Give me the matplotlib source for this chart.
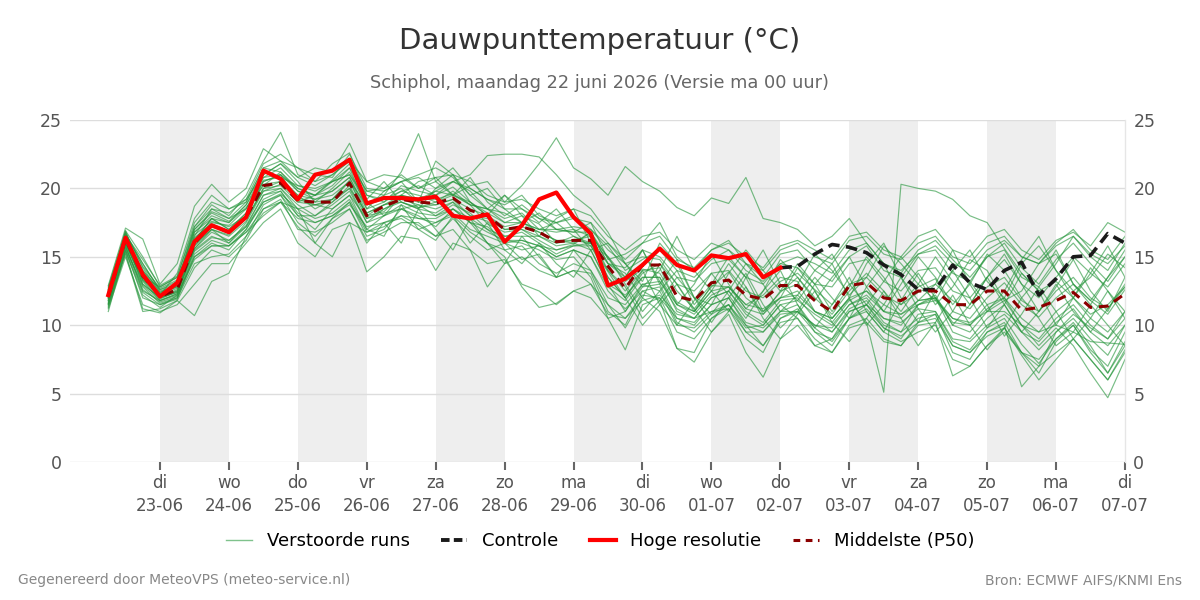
import matplotlib
matplotlib.use("Agg")
import matplotlib.pyplot as plt
from matplotlib.lines import Line2D
import pandas as pd

# ---------------- data ----------------
start_time = "2026-06-22 06:00"
n_steps = 60
step = "6h"

hoge_resolutie = [12.2, 16.4, 13.7, 12.1, 13.1, 16.1, 17.3, 16.8, 17.9, 21.3,
                  20.7, 19.2, 21.0, 21.3, 22.1, 18.9, 19.3, 19.3, 19.2, 19.4,
                  18.0, 17.8, 18.1, 16.1, 17.3, 19.2, 19.7, 17.9, 16.7, 12.9,
                  13.4, 14.4, 15.6, 14.4, 14.0, 15.1, 14.9, 15.2, 13.5, 14.2]

controle_start_index = 39
controle = [14.2, 14.3, 15.2, 15.9, 15.7, 15.3, 14.4, 13.7, 12.6, 12.6,
            14.4, 13.1, 12.6, 14.0, 14.6, 12.2, 13.4, 15.0, 15.1, 16.7, 16.0]

p50 = [12.1, 16.3, 13.6, 12.1, 12.6, 16.0, 17.3, 16.8, 17.9, 20.2,
       20.4, 19.1, 19.0, 19.0, 20.4, 18.0, 18.7, 19.2, 19.0, 18.9,
       19.3, 18.4, 18.0, 17.0, 17.2, 16.8, 16.1, 16.2, 16.2, 14.3,
       12.7, 14.4, 14.4, 12.1, 11.8, 13.1, 13.3, 12.2, 11.9, 12.9,
       12.9, 11.8, 11.0, 12.9, 13.1, 12.0, 11.8, 12.5, 12.5, 11.5,
       11.5, 12.5, 12.5, 11.1, 11.3, 11.8, 12.4, 11.3, 11.4, 12.3]

m01 = [12.5, 16.8, 14.2, 12.4, 13.0, 17.2, 18.8, 18.0, 19.5, 22.0,
       24.1, 21.0, 20.5, 21.8, 22.6, 19.5, 19.0, 20.2, 19.8, 19.5,
       20.1, 19.0, 18.2, 17.5, 18.0, 17.4, 16.0, 16.5, 15.8, 13.9,
       12.0, 13.8, 14.5, 12.5, 11.2, 12.8, 13.9, 12.0, 11.0, 12.4,
       13.5, 12.0, 10.8, 12.5, 13.8, 12.5, 11.0, 12.8, 13.4, 11.0,
       10.5, 12.0, 13.1, 11.5, 10.6, 12.0, 13.0, 11.8, 10.8, 12.6]
m02 = [12.0, 16.0, 13.2, 11.8, 12.3, 15.6, 17.0, 16.5, 17.6, 20.0,
       20.5, 19.5, 18.5, 19.2, 20.6, 18.0, 18.3, 19.5, 18.6, 19.0,
       19.8, 18.8, 17.4, 16.8, 17.0, 16.2, 15.5, 15.9, 16.8, 14.9,
       13.2, 14.1, 13.8, 11.7, 11.0, 12.9, 12.8, 11.5, 12.2, 13.5,
       13.2, 11.0, 10.5, 11.9, 10.2, 5.1, 20.3, 20.0, 19.8, 19.2,
       18.0, 17.5, 15.6, 13.8, 12.5, 13.2, 12.0, 10.8, 11.5, 12.8]
m03 = [11.5, 15.2, 11.0, 11.2, 11.8, 10.7, 13.2, 13.8, 16.5, 18.2,
       19.0, 18.5, 16.0, 15.0, 17.5, 16.8, 17.2, 18.0, 17.3, 16.5,
       17.8, 16.5, 15.5, 16.0, 14.8, 15.2, 13.5, 14.0, 13.8, 11.0,
       10.0, 12.5, 12.8, 10.2, 9.5, 10.8, 11.5, 10.0, 8.5, 10.5,
       11.2, 9.8, 8.8, 10.5, 11.2, 9.8, 9.0, 10.8, 11.0, 8.8,
       8.2, 9.8, 10.5, 8.6, 7.2, 9.0, 10.2, 8.5, 6.5, 8.5]
m04 = [12.8, 16.9, 15.0, 12.8, 13.5, 17.5, 19.0, 18.5, 19.0, 21.5,
       21.2, 20.0, 19.5, 20.6, 21.8, 19.8, 19.5, 21.2, 24.0, 20.5,
       19.5, 20.8, 19.0, 18.0, 18.8, 17.8, 17.0, 17.2, 17.0, 15.5,
       14.5, 13.2, 16.0, 14.5, 12.0, 11.5, 13.8, 15.5, 14.0, 12.5,
       13.0, 15.2, 14.0, 12.2, 13.5, 15.8, 14.5, 13.0, 11.8, 14.0,
       15.5, 13.2, 12.0, 14.5, 15.8, 14.0, 12.5, 13.5, 15.2, 14.2]
m05 = [12.3, 16.5, 14.0, 12.6, 13.2, 16.8, 18.0, 17.5, 18.8, 20.8,
       21.5, 20.2, 19.8, 20.5, 21.0, 18.8, 19.5, 20.0, 19.0, 19.8,
       20.5, 21.0, 22.4, 22.5, 22.5, 22.3, 21.0, 19.5, 18.5, 16.8,
       14.5, 15.0, 14.8, 13.0, 12.5, 13.8, 14.0, 12.5, 12.0, 13.2,
       13.8, 12.6, 11.5, 13.0, 13.5, 12.2, 11.5, 12.4, 13.0, 11.8,
       11.2, 12.8, 13.5, 11.8, 11.0, 12.5, 13.5, 12.0, 11.2, 12.8]
m06 = [12.4, 16.6, 14.5, 12.5, 12.9, 16.5, 18.5, 17.8, 18.5, 21.0,
       21.8, 20.5, 19.0, 20.0, 21.2, 19.0, 18.0, 19.5, 20.5, 20.8,
       19.5, 20.2, 20.5, 19.0, 20.2, 21.8, 23.7, 21.5, 20.7, 19.5,
       21.6, 20.5, 19.8, 18.6, 18.0, 19.3, 18.9, 20.8, 17.8, 17.5,
       17.0, 15.8, 16.5, 17.8, 16.0, 14.5, 13.8, 15.5, 16.2, 14.8,
       13.5, 15.0, 16.0, 14.2, 13.0, 14.8, 16.0, 14.5, 13.2, 15.0]
m07 = [11.0, 15.5, 12.0, 11.5, 12.0, 14.5, 15.0, 15.2, 16.5, 18.8,
       19.5, 17.5, 16.5, 17.8, 19.0, 16.5, 17.0, 18.5, 18.0, 17.2,
       18.5, 17.5, 16.0, 15.5, 15.8, 14.5, 13.8, 14.5, 14.0, 11.5,
       9.8, 12.0, 11.0, 8.3, 7.3, 9.5, 10.8, 8.0, 6.2, 9.0,
       10.0, 8.5, 8.0, 10.0, 10.5, 9.0, 8.5, 10.2, 10.8, 8.0,
       7.5, 9.5, 10.2, 8.0, 6.5, 8.8, 10.0, 8.2, 7.0, 9.5]
m08 = [11.8, 16.2, 13.0, 12.0, 12.4, 15.8, 17.0, 16.0, 17.2, 19.5,
       20.0, 18.8, 18.0, 19.0, 20.0, 17.5, 18.5, 19.0, 18.5, 18.2,
       19.0, 18.0, 17.6, 16.5, 16.8, 16.0, 15.2, 15.8, 16.0, 13.5,
       12.0, 14.0, 14.2, 11.5, 11.0, 12.5, 12.8, 11.5, 11.2, 12.0,
       12.2, 11.0, 10.5, 12.0, 12.5, 11.0, 10.8, 11.8, 12.0, 10.5,
       10.0, 11.5, 12.0, 10.0, 8.5, 9.8, 8.5, 6.5, 4.7, 7.5]
m09 = [12.6, 16.4, 13.8, 12.2, 13.8, 17.8, 19.5, 18.5, 19.2, 21.8,
       22.5, 21.5, 21.0, 20.8, 22.5, 20.0, 19.8, 20.5, 21.0, 21.5,
       20.8, 19.5, 20.0, 18.5, 17.5, 18.2, 17.0, 16.8, 17.5, 14.8,
       15.2, 16.0, 17.5, 15.0, 14.0, 15.5, 16.2, 14.5, 13.5, 15.2,
       15.5, 14.0, 13.2, 15.0, 15.8, 14.0, 13.5, 15.2, 15.5, 13.8,
       13.2, 15.0, 15.5, 13.5, 12.8, 14.5, 16.5, 15.0, 14.0, 16.0]
m10 = [11.6, 15.8, 12.5, 11.8, 12.2, 15.0, 16.0, 15.5, 17.0, 19.0,
       19.5, 18.0, 17.0, 18.5, 19.5, 17.0, 16.5, 18.8, 17.0, 16.2,
       18.0, 16.0, 17.5, 15.5, 14.5, 16.0, 14.5, 13.5, 15.5, 13.0,
       11.0, 12.8, 13.0, 10.5, 10.0, 11.5, 12.0, 10.0, 9.5, 11.0,
       11.5, 9.5, 8.5, 10.5, 11.0, 9.5, 8.8, 9.5, 10.0, 7.5,
       7.0, 8.5, 9.8, 7.8, 6.0, 7.5, 9.0, 7.5, 6.0, 8.0]
m11 = [12.2, 16.9, 13.5, 12.8, 13.5, 16.2, 17.8, 17.0, 18.2, 20.8,
       21.0, 19.8, 19.5, 19.8, 20.8, 18.5, 19.0, 19.8, 19.5, 19.0,
       19.5, 18.8, 18.5, 17.8, 18.2, 17.0, 16.8, 17.0, 16.5, 15.0,
       13.5, 15.5, 13.0, 14.8, 12.0, 10.8, 12.5, 14.5, 13.0, 11.0,
       12.2, 14.0, 15.2, 13.0, 11.5, 13.2, 15.0, 13.5, 11.5, 12.8,
       14.8, 14.0, 11.8, 12.5, 14.5, 15.2, 13.0, 11.8, 13.5, 15.0]
m12 = [12.9, 17.1, 16.3, 13.0, 14.5, 18.7, 20.3, 19.0, 20.0, 22.9,
       22.0, 21.5, 20.5, 21.0, 22.0, 20.5, 21.0, 20.8, 20.0, 20.5,
       21.5, 20.0, 19.2, 18.8, 19.5, 18.0, 17.5, 18.0, 17.0, 15.8,
       14.0, 14.8, 15.5, 14.0, 13.5, 14.8, 15.5, 14.0, 13.2, 14.5,
       14.2, 13.0, 12.8, 14.5, 14.8, 13.2, 12.5, 14.0, 14.2, 12.5,
       12.0, 13.5, 14.8, 13.0, 12.0, 13.5, 15.0, 13.8, 12.8, 14.5]
m13 = [11.2, 15.0, 11.5, 11.0, 11.5, 13.0, 14.5, 14.5, 16.0, 17.5,
       18.5, 16.0, 15.0, 17.0, 17.5, 13.9, 15.0, 16.5, 16.3, 14.0,
       16.0, 15.5, 14.5, 14.8, 13.0, 12.5, 11.5, 12.5, 12.0, 10.5,
       11.0, 13.0, 12.5, 10.0, 9.8, 11.0, 11.5, 9.8, 10.0, 11.5,
       10.5, 8.5, 9.0, 11.0, 11.5, 10.0, 9.5, 11.5, 12.0, 9.5,
       9.0, 10.5, 11.5, 9.5, 8.8, 10.2, 11.2, 9.5, 8.5, 10.0]
m14 = [12.1, 16.1, 13.9, 12.3, 12.8, 16.6, 17.6, 17.2, 18.0, 20.5,
       21.0, 19.0, 19.5, 20.2, 21.5, 18.5, 19.8, 20.5, 19.0, 22.0,
       21.0, 19.5, 18.5, 19.5, 18.5, 17.5, 18.5, 17.0, 15.5, 16.0,
       14.5, 12.8, 14.0, 16.5, 14.0, 12.5, 11.0, 13.5, 15.5, 13.0,
       11.8, 13.5, 12.0, 10.5, 12.8, 14.5, 12.0, 10.2, 12.5, 14.0,
       12.0, 9.8, 11.5, 13.8, 12.5, 10.0, 12.0, 14.2, 12.5, 10.5]
m15 = [11.9, 15.9, 13.3, 11.9, 12.5, 15.5, 16.5, 16.0, 17.5, 19.8,
       20.0, 18.5, 18.8, 18.5, 19.5, 17.8, 18.2, 18.5, 18.8, 18.0,
       18.8, 18.2, 17.0, 16.5, 16.5, 16.5, 15.8, 16.0, 15.5, 13.0,
       12.2, 13.5, 13.5, 11.0, 10.5, 12.0, 12.5, 11.0, 10.2, 11.8,
       12.0, 10.5, 9.5, 11.2, 11.8, 10.2, 9.5, 10.5, 10.8, 8.5,
       8.0, 9.5, 10.0, 5.5, 7.0, 9.5, 10.5, 9.0, 7.8, 10.0]
m16 = [12.4, 16.3, 13.6, 12.2, 12.7, 16.3, 17.5, 17.3, 18.5, 20.5,
       21.0, 20.0, 19.5, 20.5, 21.0, 19.2, 20.5, 19.0, 18.5, 20.0,
       21.0, 19.0, 18.0, 19.5, 18.0, 16.5, 17.8, 18.5, 16.0, 14.5,
       14.2, 15.5, 15.0, 13.5, 13.2, 14.5, 14.8, 13.5, 13.0, 14.5,
       15.0, 14.5, 13.8, 15.5, 16.0, 14.5, 14.0, 15.2, 15.8, 14.5,
       14.0, 15.5, 16.2, 15.0, 14.5, 16.0, 17.0, 15.5, 14.8, 16.5]
m17 = [12.0, 16.0, 13.0, 12.0, 12.6, 16.0, 17.0, 16.6, 17.8, 20.0,
       20.2, 19.0, 18.8, 19.0, 20.2, 17.8, 18.5, 19.2, 18.8, 18.5,
       19.0, 17.5, 17.2, 16.2, 16.0, 15.5, 14.8, 15.0, 13.5, 10.5,
       8.2, 11.5, 12.0, 9.5, 9.0, 10.5, 11.5, 9.5, 8.5, 10.2,
       10.5, 9.0, 8.0, 9.8, 10.2, 8.8, 8.5, 10.0, 10.2, 6.3,
       7.0, 8.5, 9.5, 8.0, 7.5, 9.0, 10.0, 8.0, 6.5, 8.8]
m18 = [11.7, 15.6, 12.8, 11.6, 12.0, 15.2, 16.2, 15.8, 17.0, 19.2,
       19.8, 18.2, 17.5, 18.0, 19.0, 16.8, 17.5, 18.0, 17.8, 17.5,
       18.0, 16.8, 16.0, 15.0, 12.8, 11.3, 11.6, 12.5, 13.0, 10.8,
       10.5, 12.2, 12.0, 10.5, 10.2, 11.5, 12.0, 10.2, 9.8, 11.0,
       11.0, 10.0, 9.8, 11.5, 12.0, 10.5, 10.0, 11.5, 12.2, 10.0,
       9.5, 11.0, 11.8, 10.0, 9.0, 10.5, 11.5, 10.0, 9.0, 10.5]
m19 = [12.3, 16.7, 14.5, 12.6, 13.0, 17.0, 18.2, 17.6, 18.8, 21.2,
       20.8, 20.2, 20.0, 20.5, 21.5, 19.5, 19.2, 19.8, 20.2, 19.5,
       20.5, 19.8, 18.5, 18.2, 17.5, 17.0, 17.5, 16.5, 16.0, 15.0,
       13.0, 11.0, 12.5, 14.0, 11.5, 13.0, 15.0, 13.5, 11.0, 12.0,
       14.2, 12.5, 10.5, 12.0, 14.5, 16.0, 13.5, 11.8, 13.0, 15.5,
       13.0, 11.0, 12.5, 14.8, 16.5, 14.0, 12.0, 13.8, 15.8, 13.5]
m20 = [11.3, 15.3, 11.2, 10.9, 11.8, 14.2, 15.5, 15.0, 16.2, 18.5,
       19.2, 17.0, 16.8, 17.5, 18.5, 16.0, 17.5, 16.0, 18.5, 17.0,
       15.5, 17.8, 16.0, 14.5, 16.5, 15.0, 13.5, 15.5, 14.0, 12.0,
       11.5, 13.0, 13.2, 11.2, 10.5, 12.0, 12.5, 10.8, 10.0, 11.5,
       11.8, 10.8, 10.0, 11.5, 12.2, 11.0, 10.5, 11.8, 12.0, 10.2,
       10.0, 11.2, 12.0, 10.5, 9.5, 11.0, 12.0, 10.5, 9.5, 11.0]
m21 = [12.7, 16.6, 14.8, 12.9, 13.6, 17.2, 18.5, 18.2, 19.2, 21.0,
       21.8, 20.8, 21.5, 21.2, 23.3, 20.5, 20.0, 21.0, 20.0, 20.8,
       21.0, 20.5, 19.5, 19.0, 19.2, 18.5, 18.0, 18.5, 18.0, 16.5,
       15.5, 16.5, 16.8, 15.5, 14.8, 16.0, 15.5, 14.5, 14.0, 15.5,
       16.0, 15.0, 14.5, 16.2, 16.5, 15.2, 14.8, 16.0, 16.5, 15.0,
       14.5, 16.0, 16.5, 15.0, 14.5, 15.8, 16.5, 15.2, 14.5, 15.8]
m22 = [12.0, 16.2, 13.4, 12.1, 12.5, 15.8, 17.2, 16.8, 17.8, 19.8,
       20.3, 19.2, 18.8, 19.2, 20.0, 18.2, 18.8, 19.0, 18.6, 18.8,
       19.2, 18.0, 17.8, 17.0, 17.0, 16.5, 16.0, 16.2, 16.5, 14.0,
       12.8, 10.5, 11.8, 13.5, 12.0, 10.2, 12.0, 13.8, 11.5, 9.8,
       11.0, 13.0, 14.5, 12.0, 10.0, 11.5, 13.5, 11.2, 9.5, 11.0,
       13.2, 11.5, 9.2, 10.8, 12.8, 11.0, 9.0, 10.5, 12.5, 11.0]
m23 = [11.4, 15.4, 12.2, 11.3, 12.2, 14.8, 15.8, 15.8, 16.8, 18.0,
       19.0, 17.8, 17.5, 18.0, 18.8, 17.2, 17.5, 17.8, 17.0, 17.5,
       18.2, 17.0, 16.5, 16.0, 15.5, 15.8, 15.0, 15.5, 15.0, 12.8,
       11.8, 13.5, 13.5, 11.5, 10.8, 12.2, 12.8, 11.2, 10.8, 12.0,
       12.5, 11.0, 10.2, 11.8, 12.5, 11.5, 10.8, 11.5, 11.8, 10.5,
       10.2, 11.0, 11.0, 10.0, 9.5, 10.0, 9.5, 8.8, 8.7, 8.6]
m24 = [12.5, 16.5, 14.0, 12.4, 12.8, 16.8, 17.8, 17.0, 18.2, 20.6,
       20.8, 19.5, 19.2, 19.5, 20.5, 18.8, 19.2, 19.5, 19.2, 19.8,
       19.5, 19.0, 18.0, 17.2, 17.5, 16.8, 16.2, 16.0, 16.8, 14.5,
       13.5, 15.5, 13.2, 11.5, 13.0, 15.2, 13.0, 11.2, 12.5, 14.8,
       13.5, 11.8, 13.5, 15.0, 12.8, 11.0, 13.0, 15.0, 13.5, 11.5,
       13.0, 15.2, 14.0, 12.0, 13.5, 15.5, 13.0, 11.5, 13.5, 15.5]
m25 = [11.8, 15.8, 12.6, 11.7, 12.1, 15.4, 16.4, 16.2, 17.2, 19.0,
       19.6, 18.5, 17.8, 18.2, 19.2, 17.0, 18.0, 18.5, 17.8, 17.8,
       18.5, 17.5, 16.8, 16.2, 16.2, 15.8, 15.0, 15.5, 15.0, 12.5,
       11.2, 12.5, 11.8, 8.3, 8.0, 10.5, 11.2, 9.0, 8.0, 10.5,
       11.0, 9.5, 9.0, 10.5, 11.5, 9.8, 9.2, 10.2, 10.5, 8.5,
       8.0, 9.2, 9.8, 8.0, 7.0, 8.0, 9.0, 7.5, 6.0, 8.2]
m26 = [12.6, 16.7, 14.3, 12.7, 13.3, 17.0, 18.3, 17.8, 19.0, 21.5,
       22.0, 20.8, 20.2, 21.0, 22.0, 19.8, 20.0, 20.5, 20.8, 20.0,
       20.5, 20.0, 19.2, 18.5, 18.5, 17.8, 17.5, 17.8, 17.5, 16.0,
       14.8, 16.0, 16.5, 14.8, 14.2, 15.5, 16.0, 15.0, 14.2, 15.8,
       16.2, 15.5, 14.8, 16.5, 16.8, 15.5, 15.0, 16.5, 17.0, 15.5,
       15.0, 16.5, 17.0, 15.5, 14.8, 16.2, 16.8, 15.8, 17.5, 16.8]
m27 = [12.2, 16.0, 13.7, 12.0, 12.4, 16.4, 17.4, 16.9, 18.0, 20.3,
       20.5, 19.3, 19.0, 19.2, 20.5, 18.0, 18.8, 19.3, 19.0, 18.8,
       19.2, 18.5, 18.0, 17.0, 17.2, 16.8, 16.2, 16.2, 16.0, 14.0,
       12.5, 14.0, 11.5, 10.0, 11.8, 13.8, 12.2, 10.5, 12.5, 14.0,
       11.5, 9.8, 11.5, 13.5, 11.0, 9.5, 11.8, 13.8, 12.0, 10.0,
       11.5, 13.5, 11.5, 9.5, 11.0, 13.0, 11.0, 9.5, 11.2, 13.0]
m28 = [11.5, 15.5, 12.4, 11.5, 11.9, 15.0, 15.8, 15.8, 16.8, 18.5,
       19.0, 17.2, 16.0, 17.8, 18.5, 16.2, 16.8, 17.5, 17.5, 16.5,
       17.0, 15.5, 12.8, 14.5, 15.0, 14.0, 13.5, 14.0, 13.0, 11.5,
       10.5, 11.8, 12.2, 10.8, 10.5, 11.0, 11.2, 9.5, 9.5, 10.8,
       11.0, 10.0, 9.5, 11.0, 11.5, 10.5, 10.2, 11.2, 11.0, 9.0,
       8.8, 10.0, 10.8, 9.5, 8.2, 9.5, 10.8, 9.8, 9.0, 11.0]
m29 = [12.0, 16.4, 13.3, 12.2, 12.9, 16.2, 17.8, 17.5, 18.6, 20.2,
       21.2, 19.8, 19.2, 19.8, 20.8, 18.2, 18.8, 19.5, 19.2, 19.2,
       19.6, 18.8, 18.5, 17.5, 17.5, 17.0, 17.0, 16.8, 16.8, 14.5,
       13.8, 12.0, 14.5, 13.0, 11.0, 12.5, 14.5, 12.8, 10.8, 12.5,
       14.5, 13.0, 11.0, 12.8, 15.0, 13.5, 11.5, 13.0, 15.0, 13.2,
       11.5, 13.5, 15.2, 13.0, 11.0, 12.8, 14.8, 12.5, 11.0, 13.5]
m30 = [11.6, 15.7, 12.9, 11.8, 12.3, 15.6, 16.8, 16.2, 17.3, 19.5,
       19.8, 18.0, 18.0, 18.8, 19.8, 17.5, 18.0, 18.8, 18.2, 18.0,
       18.5, 17.8, 17.0, 16.0, 16.2, 15.8, 15.5, 15.8, 15.8, 13.5,
       12.0, 10.0, 11.5, 13.0, 11.2, 9.5, 11.0, 12.8, 10.5, 9.0,
       10.8, 12.5, 10.2, 8.8, 10.5, 12.5, 10.5, 8.5, 10.2, 12.2,
       10.0, 8.2, 9.8, 12.0, 10.5, 8.5, 9.5, 11.5, 10.0, 8.5]

members = [m01, m02, m03, m04, m05, m06, m07, m08, m09, m10,
           m11, m12, m13, m14, m15, m16, m17, m18, m19, m20,
           m21, m22, m23, m24, m25, m26, m27, m28, m29, m30]

tick_days = pd.date_range("2026-06-23", "2026-07-07", freq="D")
weekday_nl = ["ma", "di", "wo", "do", "vr", "za", "zo"]
tick_labels = [f"{weekday_nl[d.weekday()]}\n{d.strftime('%d-%m')}" for d in tick_days]
shaded_days = ["2026-06-23", "2026-06-25", "2026-06-27", "2026-06-29",
               "2026-07-01", "2026-07-03", "2026-07-05"]

title = "Dauwpunttemperatuur (°C)"
subtitle = "Schiphol, maandag 22 juni 2026 (Versie ma 00 uur)"
legend_labels = ["Verstoorde runs", "Controle", "Hoge resolutie", "Middelste (P50)"]
footer_left = "Gegenereerd door MeteoVPS (meteo-service.nl)"
footer_right = "Bron: ECMWF AIFS/KNMI Ens"

# ---------------- plot ----------------
times = pd.date_range(start_time, periods=n_steps, freq=step)

fig = plt.figure(figsize=(12, 6), dpi=100)
ax = fig.add_axes([70 / 1200, 1 - 462 / 600, (1125 - 70) / 1200, (462 - 120) / 600])

for d in shaded_days:
    d0 = pd.Timestamp(d)
    ax.axvspan(d0, d0 + pd.Timedelta(days=1), color="#eeeeee", lw=0, zorder=0)

ax.set_ylim(0, 25)
ax.set_yticks([0, 5, 10, 15, 20, 25])
ax.grid(axis="y", color="#dddddd", lw=1, zorder=0.5)
ax.set_axisbelow(True)

green = "#26963c"
for m in members:
    ax.plot(times, m, color=green, lw=0.85, alpha=0.62, zorder=2)

ax.plot(times[controle_start_index:], controle, color="#1a1a1a", lw=2.6,
        dashes=(3.2, 1.8), zorder=4)
ax.plot(times[:len(hoge_resolutie)], hoge_resolutie, color="#ff0000", lw=3, zorder=5,
        solid_joinstyle="round")
ax.plot(times, p50, color="#8b0000", lw=2.2, dashes=(3.2, 2.2), zorder=4)

ax.set_xlim(pd.Timestamp("2026-06-21 16:40"), pd.Timestamp("2026-07-07 00:00"))
ax.set_xticks(tick_days)
ax.set_xticklabels(tick_labels, fontsize=12, color="#555555", linespacing=1.3)
ax.tick_params(axis="x", length=6, width=1.5, color="#666666", pad=3)
ax.tick_params(axis="y", length=0, labelsize=12.5, labelcolor="#555555", pad=6,
               labelright=True, right=False)

for s in ["top", "left", "bottom"]:
    ax.spines[s].set_visible(False)
ax.spines["right"].set_color("#e6e6e6")
ax.spines["right"].set_linewidth(1)

fig.text(0.5, 1 - 41 / 600, title, ha="center", va="center", fontsize=21, color="#333333")
fig.text(0.5, 1 - 83 / 600, subtitle, ha="center", va="center", fontsize=12.8, color="#666666")

handles = [
    Line2D([], [], color="#2a9a40", lw=1, alpha=0.6),
    Line2D([], [], color="#1a1a1a", lw=2.8, dashes=(2.2, 1.1)),
    Line2D([], [], color="#ff0000", lw=3),
    Line2D([], [], color="#8b0000", lw=2.2, dashes=(2.2, 1.8)),
]
fig.legend(handles, legend_labels, loc="center", bbox_to_anchor=(0.5, 1 - 541 / 600),
           ncol=4, frameon=False, fontsize=13, handlelength=1.45, columnspacing=1.75,
           handletextpad=0.8)

fig.text(18 / 1200, 1 - 580 / 600, footer_left, ha="left", va="center", fontsize=10, color="#888888")
fig.text(1182 / 1200, 1 - 580 / 600, footer_right, ha="right", va="center", fontsize=10, color="#888888")

fig.savefig("out.png", dpi=100)
